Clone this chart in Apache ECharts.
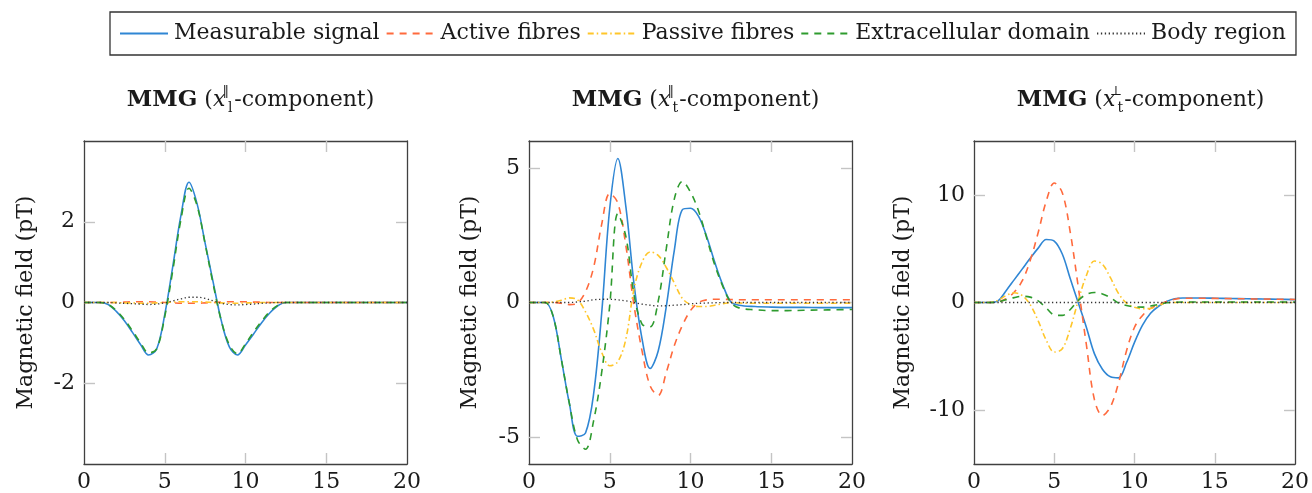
<!DOCTYPE html>
<html>
<head>
<meta charset="utf-8">
<script src="https://cdn.jsdelivr.net/npm/echarts@6/dist/echarts.min.js"></script>
<style>
  html, body { margin: 0; padding: 0; background: #fff; }
  #chart { width: 1312px; height: 493px; }
</style>
</head>
<body>
<div id="chart"></div>
<script>
  // time axis (same sampling for every panel)
  const time = [0, 0.5, 1, 1.5, 2, 2.5, 3, 3.5, 4, 4.5, 5, 5.5, 6, 6.5, 7, 7.5, 8, 8.5, 9, 9.5,
    10, 10.5, 11, 11.5, 12, 12.5, 13, 14, 15, 16, 17, 18, 19, 20];

  const seriesNames = ['Measurable signal', 'Active fibres', 'Passive fibres', 'Extracellular domain', 'Body region'];

  // MMG x_l parallel component
  const lParSignal = [0, 0, 0, -0.05, -0.22, -0.45, -0.74, -1.04, -1.3, -1.15, -0.3, 0.9, 2.15, 2.98, 2.45, 1.47, 0.5,
    -0.45, -1.1, -1.3, -1.05, -0.78, -0.5, -0.26, -0.08, 0, 0, 0, 0, 0, 0, 0, 0, 0];
  const lParActive = [0, 0, 0, 0, 0, 0.01, 0.02, 0.02, 0.02, 0.01, 0, -0.01, -0.02, -0.02, -0.02, -0.01, 0,
    0.01, 0.02, 0.02, 0.02, 0.01, 0.01, 0, 0, 0, 0, 0, 0, 0, 0, 0, 0, 0];
  const lParPassive = [0, 0, 0, 0, 0, -0.01, -0.01, -0.02, -0.02, -0.01, 0, 0.01, 0.02, 0.02, 0.02, 0.01, 0,
    -0.01, -0.02, -0.02, -0.01, -0.01, 0, 0, 0, 0, 0, 0, 0, 0, 0, 0, 0, 0];
  const lParExtra = [0, 0, 0, -0.05, -0.2, -0.42, -0.7, -1.0, -1.25, -1.15, -0.35, 0.8, 2.05, 2.83, 2.4, 1.45, 0.45,
    -0.45, -1.05, -1.27, -1.02, -0.73, -0.46, -0.23, -0.07, 0, 0, 0, 0, 0, 0, 0, 0, 0];
  const lParBody = [0, 0, 0, 0, -0.01, -0.02, -0.03, -0.04, -0.05, -0.04, -0.01, 0.04, 0.09, 0.13, 0.13, 0.1, 0.04,
    -0.02, -0.05, -0.06, -0.05, -0.04, -0.02, -0.01, 0, 0, 0, 0, 0, 0, 0, 0, 0, 0];

  // MMG x_t parallel component
  const tParSignal = [0, 0, 0, -0.52, -2.1, -3.75, -4.97, -4.85, -3.4, -0.4, 3.5, 5.35, 3.55, 0.7, -1.35, -2.45, -1.8,
    -0.15, 1.95, 3.45, 3.5, 3.2, 2.45, 1.5, 0.65, 0.02, -0.1, -0.15, -0.17, -0.18, -0.18, -0.19, -0.19, -0.19];
  const tParActive = [0, 0, 0, 0, -0.03, -0.08, -0.02, 0.4, 1.3, 2.9, 4.05, 3.7, 2.1, -0.1, -1.8, -3.1, -3.45,
    -2.6, -1.6, -0.85, -0.3, 0, 0.1, 0.12, 0.12, 0.11, 0.1, 0.1, 0.1, 0.1, 0.1, 0.1, 0.1, 0.1];
  const tParPassive = [0, 0, 0, 0.02, 0.08, 0.17, 0.1, -0.35, -1.0, -1.85, -2.35, -2.2, -1.35, 0.5, 1.5, 1.88, 1.75,
    1.3, 0.72, 0.15, -0.08, -0.15, -0.15, -0.1, -0.05, 0, -0.02, -0.03, -0.03, -0.03, -0.03, -0.03, -0.03, -0.03];
  const tParExtra = [0, 0, 0, -0.52, -2.1, -3.75, -5.1, -5.45, -4.4, -2.6, -0.1, 3.3, 2.45, 0.3, -0.8, -0.9, 0.05,
    2.0, 3.85, 4.5, 4.1, 3.4, 2.4, 1.4, 0.6, 0, -0.2, -0.27, -0.3, -0.3, -0.29, -0.28, -0.27, -0.26];
  const tParBody = [0, 0, 0, 0, 0, 0, 0.02, 0.05, 0.1, 0.12, 0.12, 0.1, 0.06, 0, -0.06, -0.1, -0.13,
    -0.12, -0.1, -0.08, -0.05, -0.03, -0.02, -0.01, 0, 0, 0, 0, 0, 0, 0, 0, 0, 0];

  // MMG x_t perpendicular component
  const tPerpSignal = [0, 0, 0, 0.15, 1.1, 2.1, 3.1, 4.1, 5.05, 5.85, 5.7, 4.5, 2.2, -0.05, -2.3, -4.75, -6.2,
    -6.9, -7.0, -5.6, -3.7, -2.1, -1.0, -0.35, 0.1, 0.35, 0.42, 0.42, 0.4, 0.37, 0.35, 0.32, 0.3, 0.27];
  const tPerpActive = [0, 0, 0, 0.05, 0.35, 0.95, 2.0, 3.9, 6.5, 9.4, 11.1, 10.2, 6.5, 1.4, -3.9, -9.0, -10.5,
    -9.7, -7.5, -4.5, -2.3, -1.2, -0.55, -0.2, 0.1, 0.3, 0.4, 0.4, 0.38, 0.36, 0.34, 0.32, 0.3, 0.28];
  const tPerpPassive = [0, 0, 0, 0.2, 0.65, 0.9, 0.65, -0.2, -1.7, -3.5, -4.6, -4.3, -2.4, 0.2, 2.5, 3.85, 3.55,
    2.3, 0.85, -0.05, -0.45, -0.58, -0.55, -0.3, -0.02, 0, 0, 0, 0, 0, 0, 0, 0, 0];
  const tPerpExtra = [0, 0, 0, 0.05, 0.25, 0.45, 0.58, 0.5, 0.15, -0.5, -1.15, -1.2, -0.65, 0.2, 0.75, 0.93, 0.8,
    0.45, -0.05, -0.28, -0.4, -0.43, -0.33, -0.18, -0.03, 0.02, 0.05, 0.05, 0.05, 0.05, 0.05, 0.05, 0.05, 0.05];
  const tPerpBody = [0, 0, 0, 0, 0, 0, 0, 0, 0, 0, 0, 0, 0, 0, 0, 0, 0,
    0, 0, 0, 0, 0, 0, 0, 0, 0, 0, 0, 0, 0, 0, 0, 0, 0];

  const xTicks = [5, 10, 15];
  const xLabels = [0, 5, 10, 15, 20];
  const yTicks = [[-2, 0, 2], [-5, 0, 5], [-10, 0, 10]];
  const yRanges = [[-4, 4], [-6, 6], [-15, 15]];

  const panels = [
    { sub: 'l', sup: '‖', data: [lParSignal, lParActive, lParPassive, lParExtra, lParBody] },
    { sub: 't', sup: '‖', data: [tParSignal, tParActive, tParPassive, tParExtra, tParBody] },
    { sub: 't', sup: '⊥', data: [tPerpSignal, tPerpActive, tPerpPassive, tPerpExtra, tPerpBody] }
  ];

  const font = 'DejaVu Serif';
  const ink = '#1a1a1a';
  const colors = ['#2f86d4', '#ff6a3d', '#ffc62a', '#2e9b2e', '#333333'];
  const dashes = ['solid', [7, 6], [6, 3, 1.5, 3], [7, 6], [1.3, 2.6]];
  const gridLeft = [84, 529, 974];
  const nameGaps = [47, 48, 60];

  let grids = [], xAxes = [], yAxes = [], titles = [], series = [];

  panels.forEach((p, i) => {
    grids.push({ left: gridLeft[i], top: 141, width: 323, height: 324 });
    let frame = { show: true, onZero: false, lineStyle: { color: '#404040', width: 1.3 } };
    let tick = { show: true, inside: true, length: 11, lineStyle: { color: '#c4c4c4', width: 1.4 } };
    xAxes.push({
      type: 'value', gridIndex: i, min: 0, max: 20, interval: 5,
      axisLine: frame, splitLine: { show: false },
      axisTick: Object.assign({}, tick, { customValues: xTicks }),
      axisLabel: { customValues: xLabels, margin: 7, fontFamily: font, fontSize: 22, color: ink }
    });
    xAxes.push({
      type: 'value', gridIndex: i, position: 'top', min: 0, max: 20, interval: 5,
      axisLine: frame, splitLine: { show: false },
      axisTick: Object.assign({}, tick, { customValues: xTicks }),
      axisLabel: { show: false }
    });
    yAxes.push({
      type: 'value', gridIndex: i, min: yRanges[i][0], max: yRanges[i][1],
      name: 'Magnetic field (pT)', nameLocation: 'middle', nameGap: nameGaps[i],
      nameTextStyle: { fontFamily: font, fontSize: 22, color: ink },
      axisLine: frame, splitLine: { show: false },
      axisTick: Object.assign({}, tick, { customValues: yTicks[i] }),
      axisLabel: { customValues: yTicks[i], margin: 9, fontFamily: font, fontSize: 22, color: ink }
    });
    yAxes.push({
      type: 'value', gridIndex: i, position: 'right', min: yRanges[i][0], max: yRanges[i][1],
      axisLine: frame, splitLine: { show: false },
      axisTick: Object.assign({}, tick, { customValues: yTicks[i] }),
      axisLabel: { show: false }
    });

    titles.push({
      left: gridLeft[i] + 161.5, top: 80, textAlign: 'center',
      text: '{b|MMG}{r| (}{i|x}{sup|' + p.sup + '}{sub|' + p.sub + '}{r|-component)}',
      textStyle: {
        fontWeight: 'normal',
        rich: {
          b: { fontFamily: font, fontSize: 23, fontWeight: 'bold', color: ink, lineHeight: 30 },
          r: { fontFamily: font, fontSize: 22, fontWeight: 'normal', color: ink, lineHeight: 30 },
          i: { fontFamily: font, fontSize: 22, fontWeight: 'normal', fontStyle: 'italic', color: ink, lineHeight: 30 },
          sup: { fontFamily: font, fontSize: 13, fontWeight: 'normal', color: ink, width: 1, verticalAlign: 'top', lineHeight: 14 },
          sub: { fontFamily: font, fontSize: 14, fontWeight: 'normal', color: ink, verticalAlign: 'bottom', lineHeight: 14, width: 8 }
        }
      }
    });

    p.data.forEach((vals, k) => {
      series.push({
        name: seriesNames[k], type: 'line', xAxisIndex: i * 2, yAxisIndex: i * 2,
        data: time.map((t, j) => [t, vals[j]]),
        symbol: 'none', smooth: 0.35, animation: false,
        lineStyle: { color: colors[k], width: k === 4 ? 1.3 : 1.6, type: dashes[k] },
        itemStyle: { color: colors[k] }
      });
    });
  });

  const chart = echarts.init(document.getElementById('chart'));
  chart.setOption({
    backgroundColor: '#fff',
    animation: false,
    title: titles,
    legend: {
      data: seriesNames, left: 110, top: 12, selectedMode: false,
      borderColor: '#333', borderWidth: 1.3, padding: [7, 10, 7, 9],
      itemGap: 6, itemWidth: 48, itemHeight: 14,
      itemStyle: { opacity: 0 },
      textStyle: { fontFamily: font, fontSize: 22, color: ink, lineHeight: 29, padding: [0, 0, 0, 1] }
    },
    grid: grids,
    xAxis: xAxes,
    yAxis: yAxes,
    series: series
  });
</script>
</body>
</html>
